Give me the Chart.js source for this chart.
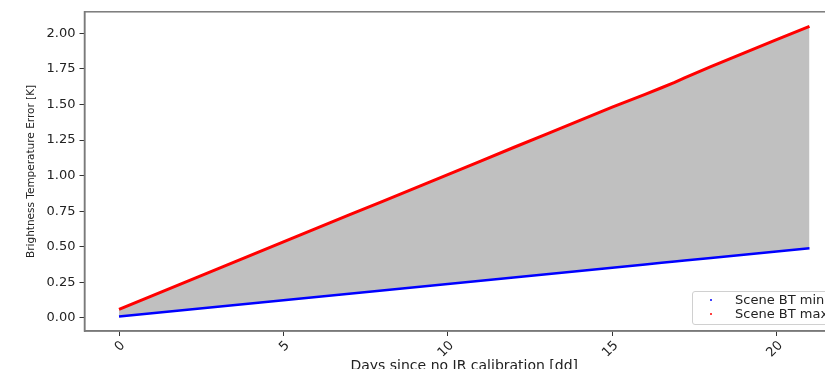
<!doctype html>
<html lang="en">
<head>
<meta charset="utf-8">
<title>Brightness Temperature Error</title>
<script src="https://cdn.jsdelivr.net/npm/chart.js"></script>
<style>
  html, body { margin: 0; padding: 0; background: #fff; overflow: hidden; }
  #wrap { position: relative; width: 870px; height: 385px; }
  #legend {
    position: absolute; left: 692px; top: 291px; width: 146px; height: 34px;
    border: 1px solid #d0d0d0; border-radius: 3px; background: rgba(255,255,255,0.85);
    font: 13px "DejaVu Sans", sans-serif; color: #222; box-sizing: border-box;
  }
  #legend div { position: absolute; left: 42px; height: 14px; line-height: 14px; white-space: nowrap; }
  #legend span { position: absolute; left: -25px; top: 6px; width: 2px; height: 2px; border-radius: 1px; }
</style>
</head>
<body>
<div id="wrap">
  <canvas id="chart" width="870" height="385"></canvas>
  <div id="legend">
    <div style="top:1px"><span style="background:#0000ff"></span>Scene BT min</div>
    <div style="top:15px"><span style="background:#ff0000"></span>Scene BT max</div>
  </div>
</div>
<script>
const days = [0, 1, 2, 3, 4, 5, 6, 7, 8, 9, 10, 11, 12, 13, 14, 15, 16, 16.5, 16.9, 17.2, 18, 19, 20, 21]
const btMin = [0.010, 0.033, 0.056, 0.079, 0.101, 0.124, 0.147, 0.170, 0.193, 0.216, 0.239, 0.261, 0.284, 0.307, 0.330, 0.353, 0.376, 0.387, 0.396, 0.403, 0.421, 0.444, 0.467, 0.490]
const btMax = [0.060, 0.155, 0.250, 0.344, 0.439, 0.534, 0.629, 0.724, 0.818, 0.913, 1.008, 1.103, 1.198, 1.292, 1.387, 1.482, 1.572, 1.618, 1.656, 1.688, 1.767, 1.862, 1.956, 2.050]
const xTicks = [0, 5, 10, 15, 20]
const yTicks = [0, 0.25, 0.5, 0.75, 1.0, 1.25, 1.5, 1.75, 2.0]

const tickFont = { family: 'DejaVu Sans', size: 13 }

// box around the axes, like matplotlib spines
const frame = {
  id: 'frame',
  afterDraw(chart) {
    const a = chart.chartArea
    const ctx = chart.ctx
    ctx.save()
    ctx.strokeStyle = '#7a7a7a'
    ctx.lineWidth = 1.5
    ctx.strokeRect(a.left, a.top, a.right - a.left, a.bottom - a.top)
    ctx.restore()
  },
}

new Chart(document.getElementById('chart'), {
  type: 'line',
  data: {
    datasets: [
      {
        label: 'Scene BT min',
        data: days.map((d, i) => ({ x: d, y: btMin[i] })),
        borderColor: '#0000ff',
        borderWidth: 2.5,
        pointRadius: 0,
        fill: false,
      },
      {
        label: 'Scene BT max',
        data: days.map((d, i) => ({ x: d, y: btMax[i] })),
        borderColor: '#ff0000',
        borderWidth: 3,
        pointRadius: 0,
        fill: '-1',
        backgroundColor: '#c0c0c0',
      },
    ],
  },
  options: {
    responsive: false,
    animation: false,
    layout: { padding: { top: 10, right: 26, left: 0, bottom: 0 } },
    plugins: { legend: { display: false }, tooltip: { enabled: false } },
    scales: {
      x: {
        type: 'linear',
        min: -1.05,
        max: 22.05,
        afterBuildTicks: (s) => { s.ticks = xTicks.map((v) => ({ value: v })) },
        afterFit: (s) => { s.height = 54 },
        grid: { drawOnChartArea: false, tickLength: 5, color: '#333' },
        border: { color: '#7a7a7a', width: 1.5 },
        ticks: { font: tickFont, color: '#222', minRotation: 45, maxRotation: 45, padding: 2, labelOffset: 4 },
        title: { display: true, text: 'Days since no IR calibration [dd]', font: { family: 'DejaVu Sans', size: 14 }, color: '#222', padding: { top: 0, bottom: 10 } },
      },
      y: {
        min: -0.092,
        max: 2.152,
        afterBuildTicks: (s) => { s.ticks = yTicks.map((v) => ({ value: v })) },
        afterFit: (s) => { s.width = 84.5 },
        grid: { drawOnChartArea: false, tickLength: 5, color: '#333' },
        border: { color: '#7a7a7a', width: 1.5 },
        ticks: { font: tickFont, color: '#222', padding: 4, callback: (v) => v.toFixed(2) },
        title: { display: true, text: 'Brightness Temperature Error [K]', font: { family: 'DejaVu Sans', size: 10.5 }, color: '#222', padding: { top: 25, bottom: 0 } },
      },
    },
  },
  plugins: [frame],
})
</script>
</body>
</html>
